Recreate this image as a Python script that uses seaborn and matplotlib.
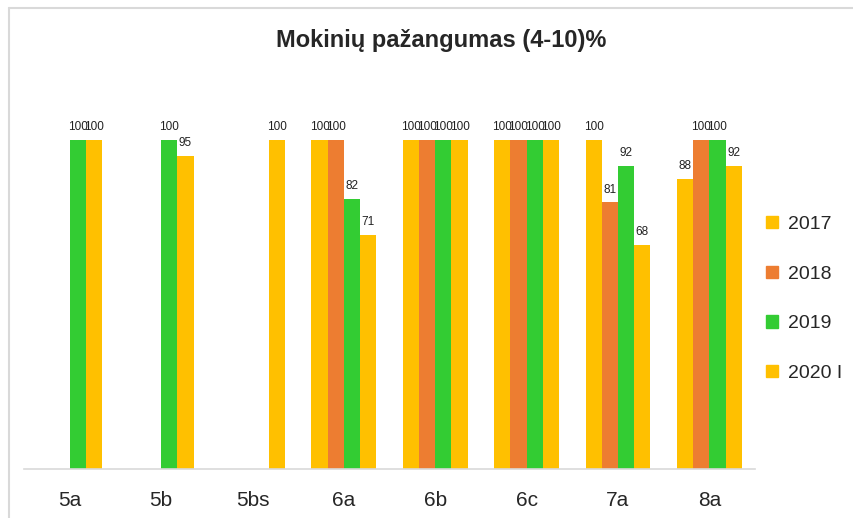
import matplotlib
matplotlib.use("Agg")
import matplotlib.pyplot as plt
import matplotlib.patches as mpatches
from matplotlib.lines import Line2D
import numpy as np
import pandas as pd
import seaborn as sns

classes = ["5a", "5b", "5bs", "6a", "6b", "6c", "7a", "8a"]
years = ["2017", "2018", "2019", "2020 I"]
v2017 = [np.nan, np.nan, np.nan, 100, 100, 100, 100, 88]
v2018 = [np.nan, np.nan, np.nan, 100, 100, 100, 81, 100]
v2019 = [100, 100, np.nan, 82, 100, 100, 92, 100]
v2020 = [100, 95, 100, 71, 100, 100, 68, 92]
colors = {"2017": "#FFC000", "2018": "#ED7D31", "2019": "#33CC33", "2020 I": "#FFC000"}

rows = []
for yr, vals in zip(years, [v2017, v2018, v2019, v2020]):
    for c, v in zip(classes, vals):
        rows.append({"klase": c, "metai": yr, "proc": v})
df = pd.DataFrame(rows).dropna()

sns.set_style("white")
plt.rcParams["font.family"] = ["Liberation Sans Narrow", "Liberation Sans", "DejaVu Sans"]

fig = plt.figure(figsize=(8.54, 5.18), dpi=100)
ax = fig.add_axes([0.0281, 0.0946, 0.856, 0.6988])

sns.barplot(data=df, x="klase", y="proc", hue="metai", order=classes,
            hue_order=years, palette=colors, width=0.71, ax=ax,
            saturation=1, legend=False, errorbar=None, linewidth=0)

# labels overlap in the original too
for cont in ax.containers:
    ax.bar_label(cont, fmt="%g", padding=5, fontsize=8.5, color="#222222")

ax.set_xlim(-0.5, 7.5)
ax.set_ylim(0, 110)
ax.set_xlabel("")
ax.set_ylabel("")
ax.set_yticks([])
ax.tick_params(axis="x", length=0, pad=16, labelsize=15)
for s in ["top", "left", "right"]:
    ax.spines[s].set_visible(False)
ax.spines["bottom"].set_color("#d9d9d9")
ax.spines["bottom"].set_linewidth(1.2)

fig.text(0.517, 0.922, "Mokinių pažangumas (4-10)%", ha="center", va="center",
         fontsize=17, fontweight="bold")

handles = [mpatches.Patch(color=colors[y], label=y) for y in years]
fig.legend(handles=handles, loc="center left", bbox_to_anchor=(0.877, 0.423),
           frameon=False, fontsize=14, handlelength=0.6, handleheight=0.6,
           handletextpad=0.5, labelspacing=1.68)

fig.add_artist(Line2D([0.0105, 1.0], [0.9845, 0.9845], color="#d9d9d9", lw=1.5,
                      transform=fig.transFigure))
fig.add_artist(Line2D([0.0105, 0.0105], [0.0, 0.9845], color="#d9d9d9", lw=1.5,
                      transform=fig.transFigure))

fig.savefig("out.png", dpi=100)
